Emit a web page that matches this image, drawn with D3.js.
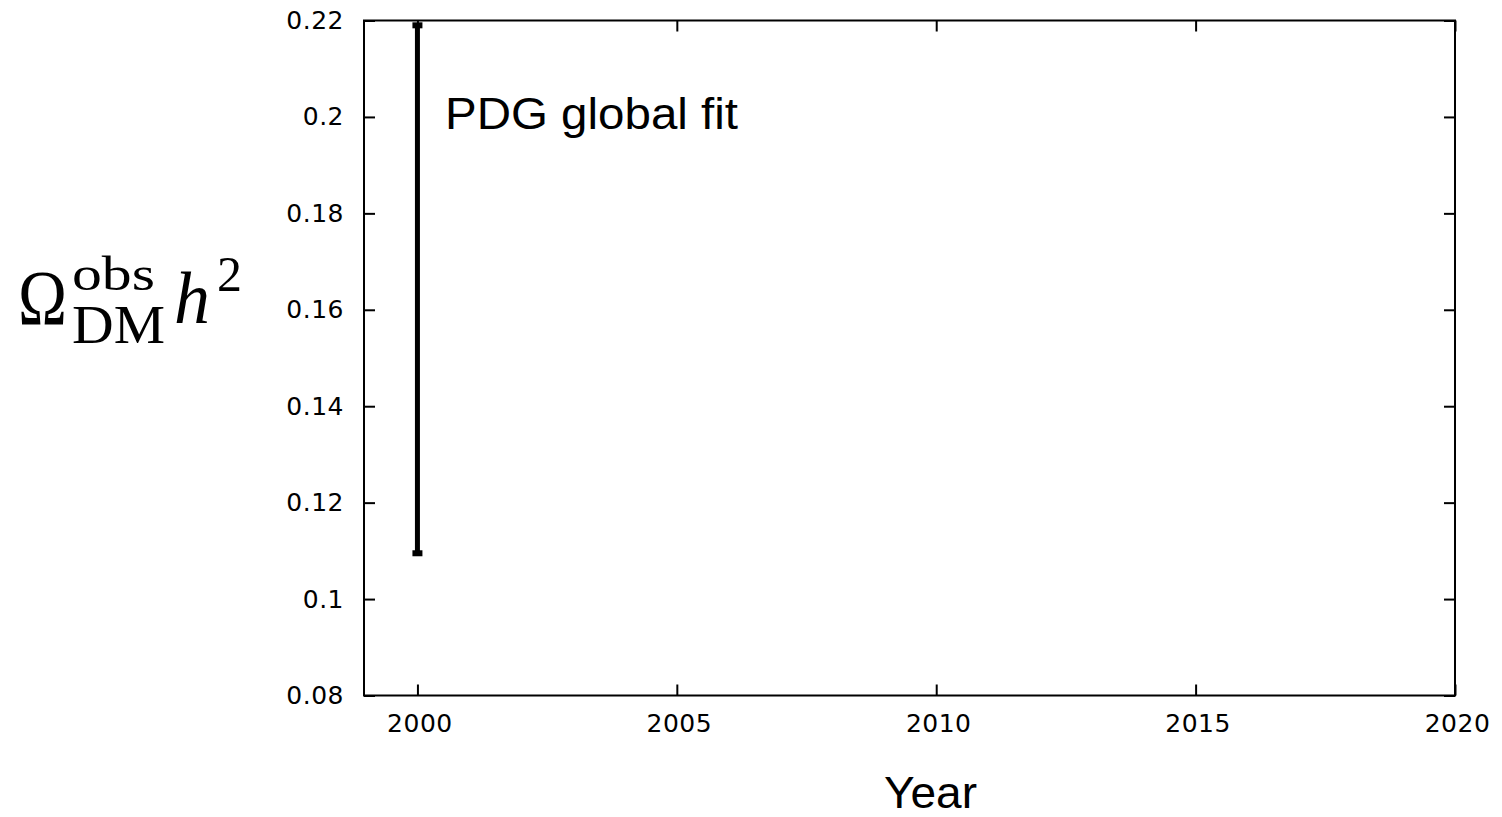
<!DOCTYPE html>
<html>
<head>
<meta charset="utf-8">
<script src="https://cdn.jsdelivr.net/npm/d3@7"></script>
<style>
  html, body { margin: 0; padding: 0; background: #fff; }
  svg { display: block; }
</style>
</head>
<body>
<svg id="chart" width="1502" height="817"></svg>
<script>
// Measurement: year, lower and upper bound of the error bar
const years = [2000];
const lower = [0.1095];
const upper = [0.219];
const labels = ["PDG global fit"];
const xTicks = [2000, 2005, 2010, 2015, 2020];
const yTicks = [0.08, 0.10, 0.12, 0.14, 0.16, 0.18, 0.20, 0.22];

const svg = d3.select("#chart");
const plotL = 364, plotR = 1455, plotT = 20.5, plotB = 695.5;

const x = d3.scaleLinear().domain([1998.97, 2020]).range([plotL, plotR]);
const y = d3.scaleLinear().domain([0.08, 0.22]).range([plotB, plotT]);

const tickFont = "DejaVu Sans, sans-serif";
const tickLen = 11;

// Frame
svg.append("rect")
  .attr("x", plotL).attr("y", plotT)
  .attr("width", plotR - plotL).attr("height", plotB - plotT)
  .attr("fill", "none").attr("stroke", "#000").attr("stroke-width", 2);

// Axes with inward ticks on all four sides
const fmtY = d => String(+d.toFixed(2));
svg.append("g").attr("transform", `translate(2,${plotB})`)
  .call(d3.axisBottom(x).tickValues(xTicks).tickSize(-tickLen).tickPadding(19).tickFormat(d3.format("d")))
  .call(g => g.select(".domain").remove())
  .call(g => g.selectAll(".tick line").attr("transform", "translate(-2,0)"));
svg.append("g").attr("transform", `translate(0,${plotT})`)
  .call(d3.axisTop(x).tickValues(xTicks).tickSize(-tickLen).tickFormat(""))
  .call(g => g.select(".domain").remove());
svg.append("g").attr("transform", `translate(${plotL},0)`)
  .call(d3.axisLeft(y).tickValues(yTicks).tickSize(-tickLen).tickPadding(20).tickFormat(fmtY))
  .call(g => g.select(".domain").remove());
svg.append("g").attr("transform", `translate(${plotR},0)`)
  .call(d3.axisRight(y).tickValues(yTicks).tickSize(-tickLen).tickFormat(""))
  .call(g => g.select(".domain").remove());

svg.selectAll(".tick line").attr("stroke", "#000").attr("stroke-width", 2);
svg.selectAll(".tick text")
  .attr("fill", "#000")
  .style("font-family", tickFont)
  .style("font-size", "25px")
  .style("letter-spacing", "0.5px");

// Error bars
const bars = svg.append("g");
years.forEach((yr, i) => {
  const cx = x(yr);
  bars.append("line")
    .attr("x1", cx).attr("x2", cx)
    .attr("y1", y(lower[i])).attr("y2", y(upper[i]))
    .attr("stroke", "#000").attr("stroke-width", 5);
  [lower[i], upper[i]].forEach(v => {
    bars.append("line")
      .attr("x1", cx - 5).attr("x2", cx + 5)
      .attr("y1", y(v)).attr("y2", y(v))
      .attr("stroke", "#000").attr("stroke-width", 6);
  });
});

const sans = "Liberation Sans, Arial, sans-serif";

// Annotation
svg.append("text")
  .attr("x", 445).attr("y", 129)
  .attr("textLength", 293).attr("lengthAdjust", "spacingAndGlyphs")
  .style("font-family", sans)
  .style("font-size", "44px")
  .attr("fill", "#000")
  .text(labels[0]);

// X axis title
svg.append("text")
  .attr("x", 884).attr("y", 808)
  .attr("textLength", 93).attr("lengthAdjust", "spacingAndGlyphs")
  .style("font-family", sans)
  .style("font-size", "44px")
  .attr("fill", "#000")
  .text("Year");

// Y axis title: Ω_DM^obs h^2
const serif = "Liberation Serif, DejaVu Serif, serif";
const yt = svg.append("g").style("font-family", serif).attr("fill", "#000");
const part = (txt, px, py, size, len, italic) =>
  yt.append("text").attr("x", px).attr("y", py)
    .attr("textLength", len).attr("lengthAdjust", "spacingAndGlyphs")
    .style("font-size", size + "px")
    .style("font-style", italic ? "italic" : "normal")
    .text(txt);
part("Ω", 18, 324, 78, 49, false);
part("obs", 72, 290, 48, 83, false);
part("DM", 72, 343, 54, 93, false);
part("h", 174, 323, 74, 36, true);
part("2", 217, 291, 50, 25, false);
</script>
</body>
</html>
